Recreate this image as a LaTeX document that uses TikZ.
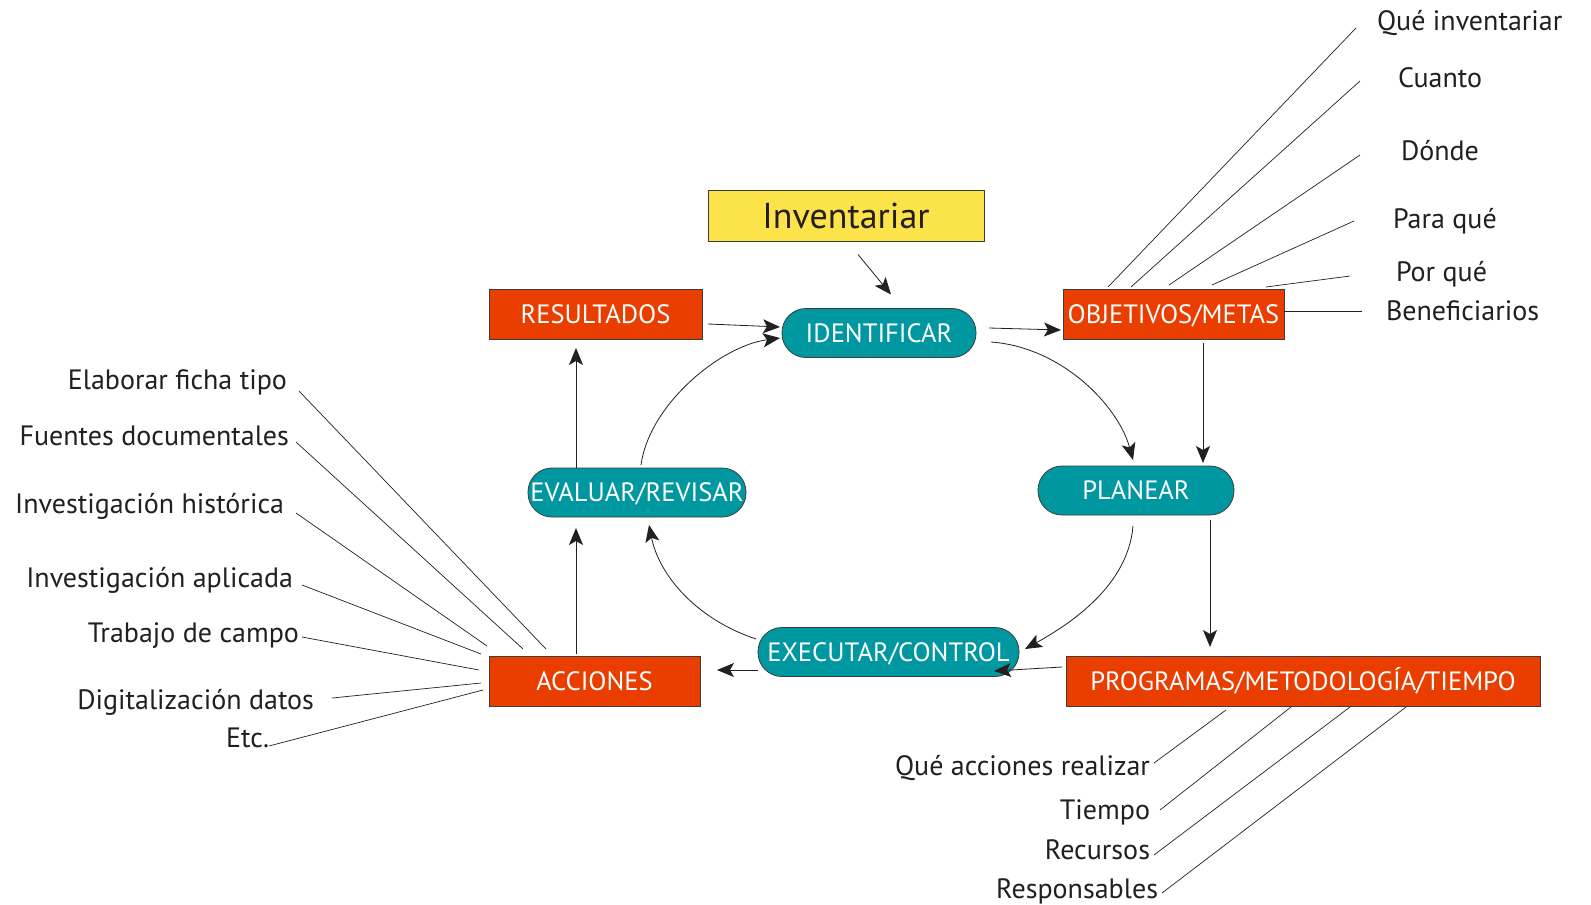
\documentclass[tikz,border=0pt]{standalone}
\usepackage{fontspec}
\setmainfont{PT Sans}
\usetikzlibrary{arrows.meta}

\definecolor{boxred}{RGB}{233,62,0}
\definecolor{pillteal}{RGB}{0,152,160}
\definecolor{boxyellow}{RGB}{252,227,74}
\definecolor{edge}{RGB}{60,60,60}
\definecolor{ink}{RGB}{35,31,32}

\newcommand{\cyclefont}{\fontsize{26.5}{30}\selectfont}
\newcommand{\notefont}{\fontsize{28}{33}\selectfont}
\newcommand{\titlefont}{\fontsize{36}{42}\selectfont}

\begin{document}
\begin{tikzpicture}[x=1pt,y=-1pt,
  every node/.style={inner sep=0pt, outer sep=0pt},
  redbox/.style={draw=edge, line width=0.8pt, fill=boxred, text=white, font=\cyclefont,
    minimum height=50pt, text height=18.8pt, text depth=0pt},
  pill/.style={draw=edge, line width=0.8pt, fill=pillteal, text=white, font=\cyclefont,
    rounded corners=24pt, minimum height=49pt, text height=18.8pt, text depth=0pt},
  note/.style={text=ink, font=\notefont},
  arr/.style={draw=ink, line width=0.8pt, -{Stealth[length=17pt,width=14pt,inset=4pt]}},
  leader/.style={draw=ink, line width=0.7pt}]

\fill[white] (0,0) rectangle (1591,905);
\useasboundingbox (0,0) rectangle (1591,905);

% --- cycle boxes ---
\node[redbox, fill=boxyellow, text=ink, font=\titlefont, minimum width=276pt,
      minimum height=51pt, text height=25pt] (inv) at (846,216) {Inventariar};
\node[redbox, minimum width=213pt] (res) at (595.5,314) {RESULTADOS};
\node[pill, minimum width=194pt] (ident) at (879,333) {IDENTIFICAR};
\node[redbox, minimum width=221pt] (obj) at (1173.5,314) {OBJETIVOS/METAS};
\node[pill, minimum width=196pt] (plan) at (1136,490.5) {PLANEAR};
\node[pill, minimum width=218pt] (eval) at (637,492.5) {EVALUAR/REVISAR};
\node[pill, minimum width=261pt] (exec) at (888.5,652) {EXECUTAR/CONTROL};
\node[redbox, minimum width=211pt] (acc) at (594.5,681) {ACCIONES};
\node[redbox, minimum width=474pt] (prog) at (1303,681) {PROGRAMAS/METODOLOGÍA/TIEMPO};

% --- notes around OBJETIVOS/METAS ---
\node[note, anchor=base west] (q1) at (1377,30) {Qué inventariar};
\node[note, anchor=base west] (q2) at (1398,87) {Cuanto};
\node[note, anchor=base west] (q3) at (1401,160) {Dónde};
\node[note, anchor=base west] (q4) at (1393,228) {Para qué};
\node[note, anchor=base west] (q5) at (1396,281) {Por qué};
\node[note, anchor=base west] (q6) at (1386,320) {Beneficiarios};

% --- notes around ACCIONES ---
\node[note, anchor=base east] (a1) at (287,389) {Elaborar ficha tipo};
\node[note, anchor=base east] (a2) at (289,445) {Fuentes documentales};
\node[note, anchor=base east] (a3) at (284,513) {Investigación histórica};
\node[note, anchor=base east] (a4) at (293,587) {Investigación aplicada};
\node[note, anchor=base east] (a5) at (299,642) {Trabajo de campo};
\node[note, anchor=base east] (a6) at (314,709) {Digitalización datos};
\node[note, anchor=base east] (a7) at (269,747) {Etc.};

% --- notes under PROGRAMAS ---
\node[note, anchor=base east] (p1) at (1150,775) {Qué acciones realizar};
\node[note, anchor=base east] (p2) at (1150,819) {Tiempo};
\node[note, anchor=base east] (p3) at (1150,859) {Recursos};
\node[note, anchor=base east] (p4) at (1158,898) {Responsables};

% --- leader lines ---
\draw[leader] ([shift={(45,-2)}]obj.north west) -- ([shift={(-21,-2)}]q1.base west);
\draw[leader] ([shift={(68,-2)}]obj.north west) -- ([shift={(-38,-6)}]q2.base west);
\draw[leader] ([shift={(106,-4)}]obj.north west) -- ([shift={(-41,-5)}]q3.base west);
\draw[leader] ([shift={(149,-4)}]obj.north west) -- ([shift={(-39,-7)}]q4.base west);
\draw[leader] ([shift={(203,-2)}]obj.north west) -- ([shift={(-46,-5)}]q5.base west);
\draw[leader] ([shift={(0,-3)}]obj.east) -- ([shift={(-24,-9)}]q6.base west);

\draw[leader] ([shift={(12,2)}]a1.base east) -- ([shift={(57,-7)}]acc.north west);
\draw[leader] ([shift={(7,-3)}]a2.base east) -- ([shift={(34,-7)}]acc.north west);
\draw[leader] ([shift={(12,0)}]a3.base east) -- ([shift={(-2,-10)}]acc.north west);
\draw[leader] ([shift={(9,-2)}]a4.base east) -- ([shift={(-8,-2)}]acc.north west);
\draw[leader] ([shift={(3,-5)}]a5.base east) -- ([shift={(-10,14)}]acc.north west);
\draw[leader] ([shift={(18,-11)}]a6.base east) -- ([shift={(-8,27)}]acc.north west);
\draw[leader] ([shift={(0,-1)}]a7.base east) -- ([shift={(-6,34)}]acc.north west);

\draw[leader] ([shift={(4,-12)}]p1.base east) -- ([shift={(160,4)}]prog.south west);
\draw[leader] ([shift={(10,-9)}]p2.base east) -- ([shift={(225,1)}]prog.south west);
\draw[leader] ([shift={(4,-4)}]p3.base east) -- ([shift={(284,1)}]prog.south west);
\draw[leader] ([shift={(4,-5)}]p4.base east) -- ([shift={(340,1)}]prog.south west);

% --- cycle arrows ---
\draw[arr] ([shift={(12,13)}]inv.south) -- ([shift={(12,-14)}]ident.north);
\draw[arr] ([shift={(6,10)}]res.east) -- ([shift={(-2,-6)}]ident.west);
\draw[arr] ([shift={(4,-3)}]eval.north) .. controls +(8,-60) and +(-60,8) .. ([shift={(-2,5)}]ident.west);
\draw[arr] ([shift={(13,-5)}]ident.east) -- ([shift={(-2,16)}]obj.west);
\draw[arr] ([shift={(15,9)}]ident.east) .. controls +(70,5) and +(-15,-55) .. ([shift={(-3,-6)}]plan.north);
\draw[arr] ([shift={(29.5,4)}]obj.south) -- ([shift={(67,-3)}]plan.north);
\draw[arr] ([shift={(-3,11)}]plan.south) .. controls +(-5,60) and +(45,-25) .. ([shift={(6,-3)}]exec.east);
\draw[arr] ([shift={(74,5)}]plan.south) -- ([shift={(-93,-9)}]prog.north);
\draw[arr] ([shift={(-4,-14)}]prog.west) -- ([shift={(-25,19)}]exec.east);
\draw[arr] ([shift={(0,18)}]exec.west) -- ([shift={(17,-11)}]acc.east);
\draw[arr] ([shift={(-2,-13)}]exec.west) .. controls +(-60,-20) and +(10,50) .. ([shift={(12,8)}]eval.south);
\draw[arr] ([shift={(-18.5,-2)}]acc.north) -- ([shift={(-61,11)}]eval.south);
\draw[arr] ([shift={(-61,0)}]eval.north) -- ([shift={(-19.5,9)}]res.south);

\end{tikzpicture}
\end{document}
